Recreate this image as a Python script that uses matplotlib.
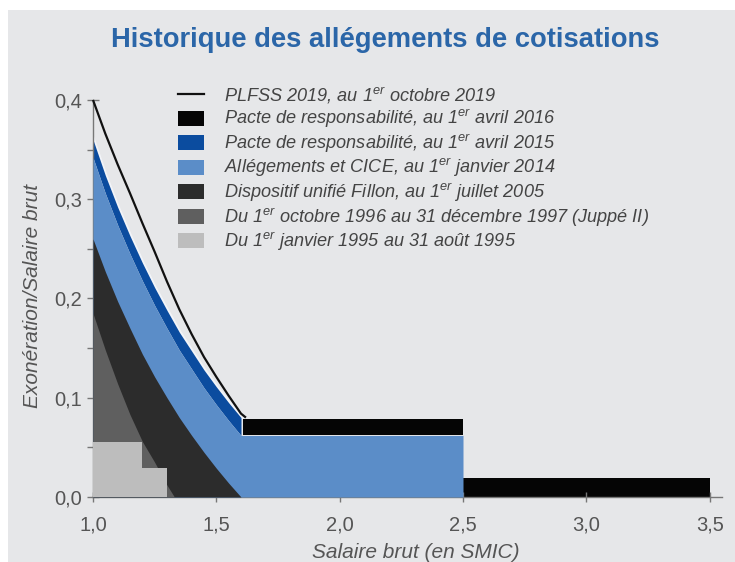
import numpy as np
import matplotlib
matplotlib.use("Agg")
import matplotlib.pyplot as plt
from matplotlib.patches import Patch, Rectangle
from matplotlib.lines import Line2D
import matplotlib.ticker as ticker

plt.rcParams['font.family'] = ['Liberation Sans', 'DejaVu Sans']
plt.rcParams['mathtext.fontset'] = 'custom'
plt.rcParams['mathtext.rm'] = 'Liberation Sans'
plt.rcParams['mathtext.it'] = 'Liberation Sans:italic'

# salaire brut en SMIC
x_curve = [1.00, 1.05, 1.10, 1.15, 1.20, 1.25, 1.30, 1.35, 1.40, 1.45, 1.50, 1.55, 1.60]

# PLFSS 2019 (ligne)
plfss_2019 = [0.400, 0.366, 0.335, 0.306, 0.276, 0.247, 0.217, 0.189, 0.164, 0.141, 0.121, 0.102, 0.084]
plfss_end_x, plfss_end_y = 1.62, 0.080

# Pacte 2015 (haut de la bande bleu foncé)
pacte_2015 = [0.360, 0.324, 0.292, 0.263, 0.236, 0.211, 0.188, 0.166, 0.147, 0.128, 0.111, 0.095, 0.080]

# Allégements + CICE 2014 (bleu clair), partie dégressive puis plateau
cice_2014 = [0.342, 0.306, 0.274, 0.245, 0.218, 0.193, 0.170, 0.148, 0.129, 0.110, 0.093, 0.077, 0.062]
cice_plateau_x = [1.60, 2.50]
cice_plateau_y = [0.062, 0.062]

# Fillon 2005
fillon_2005 = [0.260, 0.227, 0.197, 0.170, 0.144, 0.121, 0.100, 0.080, 0.062, 0.045, 0.029, 0.014, 0.000]

# Juppé II 1996-1997
juppe_x = [1.00, 1.05, 1.10, 1.15, 1.20, 1.25, 1.30, 1.33]
juppe_1996 = [0.185, 0.148, 0.114, 0.083, 0.056, 0.035, 0.012, 0.000]

# 1995 (paliers)
x_1995 = [1.0, 1.2, 1.3]
y_1995 = [0.055, 0.029, 0.029]

# Pacte 2016 (paliers, bas / haut)
x_2016 = [1.61, 2.5, 3.5]
bas_2016 = [0.062, 0.000, 0.000]
haut_2016 = [0.079, 0.019, 0.019]

labels = [
    "PLFSS 2019, au 1$^{er}$ octobre 2019",
    "Pacte de responsabilité, au 1$^{er}$ avril 2016",
    "Pacte de responsabilité, au 1$^{er}$ avril 2015",
    "Allégements et CICE, au 1$^{er}$ janvier 2014",
    "Dispositif unifié Fillon, au 1$^{er}$ juillet 2005",
    "Du 1$^{er}$ octobre 1996 au 31 décembre 1997 (Juppé II)",
    "Du 1$^{er}$ janvier 1995 au 31 août 1995",
]

bg = "#e6e7e9"
c_2016 = "#050505"
c_2015 = "#0b4c9f"
c_2014 = "#5b8dc8"
c_2005 = "#2c2c2c"
c_1996 = "#5f5f5f"
c_1995 = "#bdbdbd"

fig = plt.figure(figsize=(7.35, 5.62), dpi=100, facecolor="white")
fig.patches.append(Rectangle((8 / 735, 0), 1, (562 - 10) / 562, transform=fig.transFigure,
                             facecolor=bg, edgecolor="none", zorder=-10))
ax = fig.add_axes([93 / 735, 65 / 562, 629 / 735, 402 / 562])
ax.set_facecolor("none")

# Pacte 2016
ax.fill_between(x_2016, bas_2016, haut_2016, step="post", color=c_2016, lw=0, zorder=1)
# liseré clair au-dessus de la bande 2015
ax.plot(x_curve, pacte_2015, color="#f4f6fa", lw=3.0, alpha=0.9, zorder=1.5)
# Pacte 2015 : bande au-dessus du CICE
ax.fill_between(x_curve, cice_2014, pacte_2015, color=c_2015, lw=0, zorder=2)
# CICE 2014
xs = x_curve + cice_plateau_x[1:]
ys = cice_2014 + cice_plateau_y[1:]
ax.fill_between(xs, 0, ys, color=c_2014, lw=0, zorder=3)
# Fillon 2005
ax.fill_between(x_curve, 0, fillon_2005, color=c_2005, lw=0, zorder=4)
# Juppé II
ax.fill_between(juppe_x, 0, juppe_1996, color=c_1996, lw=0, zorder=5)
# 1995
ax.fill_between(x_1995, 0, y_1995, step="post", color=c_1995, lw=0, zorder=6)
# PLFSS 2019
ax.plot(x_curve + [plfss_end_x], plfss_2019 + [plfss_end_y], color="#111111", lw=1.6,
        zorder=7, clip_on=False, solid_capstyle="butt")

ax.set_xlim(1.0, 3.55)
ax.set_ylim(0, 0.405)
for s in ["top", "right"]:
    ax.spines[s].set_visible(False)
for s in ["left", "bottom"]:
    ax.spines[s].set_color("#777777")
    ax.spines[s].set_linewidth(1.0)
ax.spines["left"].set_bounds(0, 0.4)

fmt = ticker.FuncFormatter(lambda v, p: f"{v:.1f}".replace(".", ","))
ax.xaxis.set_major_locator(ticker.MultipleLocator(0.5))
ax.yaxis.set_major_locator(ticker.MultipleLocator(0.1))
ax.yaxis.set_minor_locator(ticker.MultipleLocator(0.05))
ax.xaxis.set_major_formatter(fmt)
ax.yaxis.set_major_formatter(fmt)
ax.tick_params(axis="x", which="major", direction="inout", length=7, width=1, color="#777777",
               labelsize=14.5, labelcolor="#555555", pad=10)
ax.tick_params(axis="y", which="major", direction="inout", length=8, width=1, color="#777777",
               labelsize=14.5, labelcolor="#555555", pad=4)
ax.tick_params(axis="y", which="minor", direction="out", length=4, width=1, color="#777777")

ax.set_xlabel("Salaire brut (en SMIC)", fontsize=15, style="italic", color="#555555")
ax.xaxis.set_label_coords(0.513, -0.115)
ax.set_ylabel("Exonération/Salaire brut", fontsize=15, style="italic", color="#555555")
ax.yaxis.set_label_coords(-0.081, 0.5)

fig.text(385 / 735, 1 - 40 / 562, "Historique des allégements de cotisations",
         ha="center", va="center", fontsize=19.7, fontweight="bold", color="#2b66a8")

handles = [
    Line2D([0], [0], color="#111111", lw=1.6),
    Patch(facecolor=c_2016, edgecolor="none"),
    Patch(facecolor=c_2015, edgecolor="none"),
    Patch(facecolor=c_2014, edgecolor="none"),
    Patch(facecolor=c_2005, edgecolor="none"),
    Patch(facecolor=c_1996, edgecolor="none"),
    Patch(facecolor=c_1995, edgecolor="none"),
]
leg = ax.legend(handles, labels, loc="upper left", bbox_to_anchor=(0.121, 1.047),
                frameon=False, borderpad=0, handlelength=1.4,
                handleheight=0.9, labelspacing=0.1, handletextpad=1.1,
                prop={"style": "italic", "size": 13.1})
for t in leg.get_texts():
    t.set_color("#444444")

fig.savefig("out.png", dpi=100, facecolor=fig.get_facecolor())
